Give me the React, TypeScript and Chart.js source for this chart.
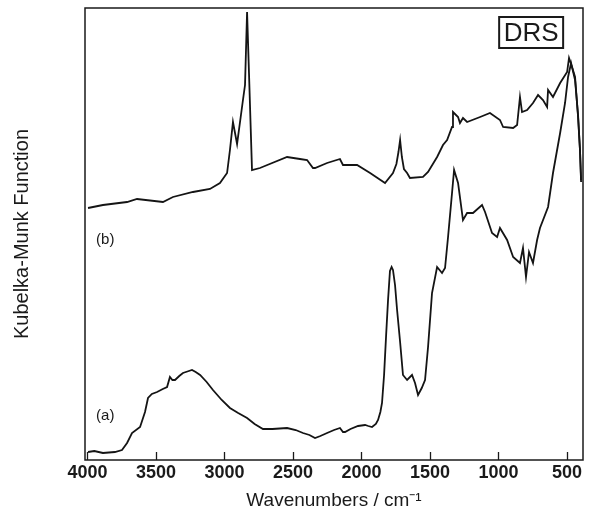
import React, { useEffect, useRef } from "react";
import { Chart, registerables } from "chart.js";

Chart.register(...registerables);

// Spectrum (a): wavenumber (cm-1) and Kubelka-Munk intensity (arb. units)
const wavenumbersA = [
  3996, 3950, 3887, 3800, 3748, 3711, 3675, 3616, 3580, 3558, 3530, 3492, 3450, 3419, 3398,
  3380, 3361, 3330, 3303, 3260, 3237, 3210, 3178, 3130, 3084, 3020, 2960, 2900, 2835, 2780,
  2719, 2650, 2543, 2480, 2427, 2380, 2339, 2300, 2251, 2200, 2157, 2135, 2120, 2080, 2025,
  1974, 1950, 1923, 1895, 1879, 1862, 1850, 1835, 1820, 1806, 1792, 1780, 1770, 1755, 1740,
  1718, 1697, 1667, 1631, 1609, 1587, 1560, 1536, 1514, 1485, 1448, 1412, 1390, 1368, 1339,
  1324, 1295, 1259, 1229, 1186, 1120, 1098, 1047, 1010, 989, 937, 893, 843, 821, 799,
  777, 748, 718, 697, 638, 602, 550, 514, 492, 470, 441, 419, 405, 397,
];
const kmA = [
  8, 9, 7, 8, 10, 17, 27, 33, 48, 62, 66, 68, 71, 73, 83,
  80, 80, 84, 87, 89, 90, 88, 85, 78, 70, 60, 52, 47, 42, 36,
  31, 31, 32, 30, 27, 25, 22, 24, 27, 30, 32, 28, 28, 31, 34,
  35, 34, 33, 36, 40, 48, 57, 85, 125, 160, 189, 193, 190, 175, 150,
  118, 85, 80, 85, 77, 65, 72, 80, 113, 167, 193, 187, 192, 223, 267,
  290, 277, 240, 247, 247, 255, 248, 227, 223, 232, 220, 203, 197, 212, 183,
  208, 197, 220, 232, 253, 287, 327, 357, 383, 397, 380, 345, 310, 278,
];

// Spectrum (b)
const wavenumbersB = [
  3996, 3887, 3711, 3638, 3449, 3376, 3230, 3106, 3033, 2981, 2960, 2938, 2908, 2865, 2850,
  2835, 2821, 2799, 2741, 2543, 2449, 2397, 2354, 2339, 2251, 2157, 2135, 2084, 2032, 1937,
  1828, 1770, 1745, 1730, 1718, 1705, 1690, 1667, 1646, 1551, 1514, 1448, 1405, 1375, 1339,
  1332, 1295, 1281, 1259, 1229, 1134, 1062, 989, 966, 893, 864, 843, 828, 791, 748,
  711, 675, 645, 638, 602, 550, 499, 485, 463, 441, 419, 405, 397,
];
const kmB = [
  252, 255, 258, 261, 258, 263, 268, 271, 277, 287, 310, 338, 316, 360, 375,
  448, 387, 290, 292, 303, 301, 300, 292, 292, 297, 301, 295, 295, 295, 287,
  277, 287, 296, 308, 320, 303, 291, 287, 282, 283, 288, 303, 315, 320, 333,
  348, 343, 337, 342, 338, 343, 347, 340, 333, 332, 335, 363, 348, 350, 357,
  365, 360, 353, 370, 363, 377, 388, 402, 393, 383, 343, 310, 280,
];

const xTicks = [4000, 3500, 3000, 2500, 2000, 1500, 1000, 500];

const FONT = "'Liberation Sans', Arial, Helvetica, sans-serif";

const framePlugin = {
  id: "frameAndNotes",
  afterDraw(chart: any) {
    const { ctx, chartArea, scales } = chart;
    const x = scales.x;
    const y = scales.y;
    ctx.save();
    ctx.strokeStyle = "#1a1a1a";
    ctx.lineWidth = 1.5;
    ctx.strokeRect(chartArea.left, chartArea.top, chartArea.right - chartArea.left, chartArea.bottom - chartArea.top);

    // inward tick marks on the wavenumber axis
    ctx.lineWidth = 1.3;
    for (const v of xTicks) {
      const px = Math.round(x.getPixelForValue(v)) + 0.5;
      ctx.beginPath();
      ctx.moveTo(px, chartArea.bottom);
      ctx.lineTo(px, chartArea.bottom - 8);
      ctx.stroke();
    }

    // spectrum labels
    ctx.fillStyle = "#1a1a1a";
    ctx.font = `15px ${FONT}`;
    ctx.textAlign = "center";
    ctx.textBaseline = "middle";
    ctx.fillText("(b)", x.getPixelForValue(3870), y.getPixelForValue(220));
    ctx.fillText("(a)", x.getPixelForValue(3870), y.getPixelForValue(44));

    // DRS box
    const bx0 = x.getPixelForValue(995);
    const bx1 = x.getPixelForValue(528);
    const by0 = y.getPixelForValue(443);
    const by1 = y.getPixelForValue(412);
    ctx.lineWidth = 2;
    ctx.strokeRect(bx0, by0, bx1 - bx0, by1 - by0);
    ctx.font = `26px ${FONT}`;
    ctx.fillText("DRS", (bx0 + bx1) / 2, (by0 + by1) / 2 + 1);
    ctx.restore();
  },
};

export default function App() {
  const canvasRef = useRef<HTMLCanvasElement | null>(null);

  useEffect(() => {
    if (!canvasRef.current) return;
    const toPoints = (xs: number[], ys: number[]) => xs.map((w, i) => ({ x: w, y: ys[i] }));
    const chart = new Chart(canvasRef.current, {
      type: "line",
      data: {
        datasets: [
          {
            label: "(b)",
            data: toPoints(wavenumbersB, kmB),
            borderColor: "#141414",
            borderWidth: 1.8,
            pointRadius: 0,
            tension: 0,
            fill: false,
          },
          {
            label: "(a)",
            data: toPoints(wavenumbersA, kmA),
            borderColor: "#141414",
            borderWidth: 1.8,
            pointRadius: 0,
            tension: 0,
            fill: false,
          },
        ],
      },
      options: {
        animation: false,
        responsive: false,
        devicePixelRatio: 1,
        layout: { padding: { left: 0, right: 9, top: 8, bottom: 0 } },
        plugins: {
          legend: { display: false },
          tooltip: { enabled: false },
        },
        scales: {
          x: {
            type: "linear",
            reverse: true,
            min: 383,
            max: 4018,
            grid: { display: false, drawTicks: false },
            border: { display: false },
            afterBuildTicks: (scale: any) => {
              scale.ticks = xTicks.map((v) => ({ value: v }));
            },
            afterFit: (scale: any) => {
              scale.height = 58;
            },
            ticks: {
              color: "#1a1a1a",
              padding: 2,
              maxRotation: 0,
              autoSkip: false,
              font: { family: FONT, size: 18, weight: "bold" },
              callback: (v: any) => String(v),
            },
            title: {
              display: true,
              text: "Wavenumbers / cm\u207B\u00B9",
              color: "#1a1a1a",
              font: { family: FONT, size: 19 },
              padding: { top: 0, bottom: 6 },
            },
          },
          y: {
            type: "linear",
            min: 0,
            max: 452,
            grid: { display: false, drawTicks: false },
            border: { display: false },
            ticks: { display: false },
            afterFit: (scale: any) => {
              scale.width = 85;
            },
            title: {
              display: true,
              text: "Kubelka-Munk Function",
              color: "#1a1a1a",
              font: { family: FONT, size: 20 },
              padding: { top: 10, bottom: 0 },
            },
          },
        },
      },
      plugins: [framePlugin],
    });
    return () => chart.destroy();
  }, []);

  return (
    <div style={{ position: "absolute", left: 0, top: 0, width: 592, height: 518, background: "#fff" }}>
      <canvas ref={canvasRef} width={592} height={518} />
    </div>
  );
}
